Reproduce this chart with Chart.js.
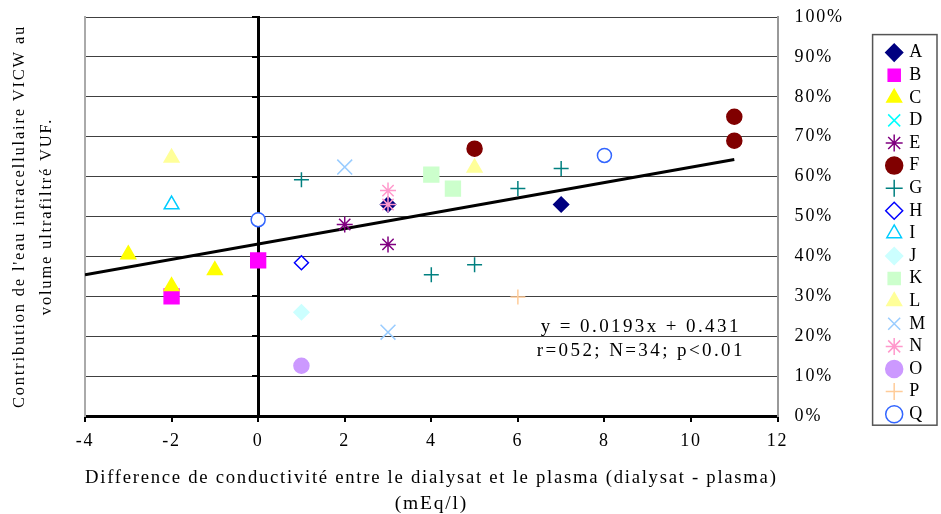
<!DOCTYPE html>
<html>
<head>
<meta charset="utf-8">
<script src="https://cdn.jsdelivr.net/npm/chart.js@4.4.0/dist/chart.umd.min.js"></script>
<style>
  html, body { margin: 0; padding: 0; background: #fff; }
  #wrap { width: 941px; height: 514px; }
</style>
</head>
<body>
<div id="wrap"><canvas id="myChart"></canvas></div>
<script>
// points per series: [x, y%]
const A = [[3, 53], [7, 53]];
const B = [[-2, 30], [0, 39]];
const C = [[-3, 40.5], [-2, 32.5], [-1, 36.5]];
const D = [];
const E = [[2, 48], [3, 43]];
const F = [[5, 67], [11, 75], [11, 69]];
const G = [[1, 59.2], [4, 35.4], [5, 37.9], [6, 57], [7, 62]];
const H = [[1, 38.4]];
const I = [[-2, 53]];
const J = [[1, 26]];
const K = [[4, 60.5], [4.5, 57]];
const L = [[-2, 64.7], [5, 62.2]];
const M = [[2, 62.4], [3, 21]];
const N = [[3, 56.5], [3, 53]];
const O = [[1, 12.6]];
const P = [[6, 29.8]];
const Q = [[0, 49.2], [8, 65.3]];

const seriesNames = ["A", "B", "C", "D", "E", "F", "G", "H", "I", "J", "K", "L", "M", "N", "O", "P", "Q"];
const seriesData = [A, B, C, D, E, F, G, H, I, J, K, L, M, N, O, P, Q];

// regression y = 0.0193x + 0.431
const trendX = [-4, 11];
const trendY = [35.4, 64.3];

const xTicks = [-4, -2, 0, 2, 4, 6, 8, 10, 12];
const yTicks = [0, 10, 20, 30, 40, 50, 60, 70, 80, 90, 100];

const equationLines = ["y = 0.0193x + 0.431", "r=052; N=34; p<0.01"];
const xTitle = ["Difference de conductivité entre le dialysat et le plasma (dialysat - plasma)", "(mEq/l)"];
const yTitle = ["Contribution de l'eau intracellulaire VICW au", "volume ultrafiltré VUF."];

// marker looks
const markerStyle = ["rectRot", "rect", "triangle", "crossRot", "star", "circle", "cross", "rectRot", "triangle", "rectRot", "rect", "triangle", "crossRot", "star", "circle", "cross", "circle"];
const markerFill = ["#000080", "#ff00ff", "#ffff00", "rgba(0,0,0,0)", "rgba(0,0,0,0)", "#800000", "rgba(0,0,0,0)", "#ffffff", "#ffffff", "#ccffff", "#ccffcc", "#ffff99", "rgba(0,0,0,0)", "rgba(0,0,0,0)", "#cc99ff", "rgba(0,0,0,0)", "#ffffff"];
const markerLine = ["#000080", "#ff00ff", "#ffff00", "#00ffff", "#800080", "#800000", "#008080", "#0000ff", "#00ccff", "#ccffff", "#ccffcc", "#ffff99", "#99ccff", "#ff99cc", "#cc99ff", "#ffcc99", "#3366ff"];
const markerRadius = [7.5, 10.5, 8.5, 10.5, 8, 7.5, 7.5, 7, 8.5, 7.5, 10.5, 8.5, 10.5, 8, 7.5, 7.5, 7];

const serif = "'Liberation Serif', 'Times New Roman', serif";
Chart.defaults.font.family = serif;
Chart.defaults.font.size = 18;
Chart.defaults.color = "#000";

// the original uses widely spaced letters
const spacing = {
  id: "spacing",
  beforeUpdate(chart) { chart.ctx.letterSpacing = "1.8px"; },
  beforeDraw(chart) { chart.ctx.letterSpacing = "1.8px"; },
};

const equation = {
  id: "equation",
  afterDatasetsDraw(chart) {
    const { ctx, scales: { x, y } } = chart;
    ctx.save();
    ctx.font = "19px " + serif;
    ctx.letterSpacing = "2.4px";
    ctx.fillStyle = "#000";
    ctx.textAlign = "center";
    ctx.textBaseline = "middle";
    ctx.fillText(equationLines[0], x.getPixelForValue(8.84), y.getPixelForValue(22.3));
    ctx.fillText(equationLines[1], x.getPixelForValue(8.84), y.getPixelForValue(16.3));
    ctx.restore();
  },
};

const legendBox = {
  id: "legendBox",
  afterDraw(chart) {
    const lg = chart.legend;
    const boxes = lg.legendHitBoxes;
    if (!boxes || !boxes.length) return;
    const first = boxes[0];
    const last = boxes[boxes.length - 1];
    const ctx = chart.ctx;
    ctx.save();
    ctx.strokeStyle = "#555";
    ctx.lineWidth = 1.5;
    ctx.strokeRect(lg.left - 11, first.top - 9, lg.right - lg.left + 11, last.top + last.height - first.top + 11);
    ctx.restore();
  },
};

// later series are painted on top, as in the original
const datasets = seriesNames.map((name, i) => ({
  label: name,
  data: seriesData[i].map((p) => ({ x: p[0], y: p[1] })),
  pointStyle: markerStyle[i],
  pointRadius: markerRadius[i],
  pointHoverRadius: markerRadius[i],
  backgroundColor: markerFill[i],
  borderColor: markerLine[i],
  pointBorderWidth: 1.5,
  borderWidth: 1.5,
  showLine: false,
  order: seriesNames.length - i,
}));

datasets.push({
  label: "trend",
  data: trendX.map((v, i) => ({ x: v, y: trendY[i] })),
  showLine: true,
  borderColor: "#000",
  borderWidth: 3,
  pointRadius: 0,
  order: 100,
});

let myChart = new Chart(document.getElementById("myChart"), {
  type: "scatter",
  data: { datasets: datasets },
  plugins: [spacing, equation, legendBox],
  options: {
    responsive: true,
    maintainAspectRatio: false,
    animation: false,
    layout: { padding: { top: 17, right: 4, bottom: 0, left: 0 } },
    plugins: {
      legend: {
        position: "right",
        align: "start",
        title: { display: true, text: "", font: { size: 10 }, padding: { top: 10, bottom: 0 } },
        labels: {
          usePointStyle: true,
          boxWidth: 12,
          boxHeight: 12,
          padding: 4.6,
          color: "#000",
          font: { size: 18 },
          filter: (item) => item.text !== "trend",
          sort: (a, b) => a.datasetIndex - b.datasetIndex,
        },
      },
      tooltip: { enabled: false },
    },
    scales: {
      x: {
        type: "linear",
        position: "bottom",
        min: -4,
        max: 12,
        afterBuildTicks: (s) => { s.ticks = xTicks.map((v) => ({ value: v })); },
        ticks: { padding: 8, color: "#000" },
        grid: { drawOnChartArea: false, drawTicks: true, tickLength: 6, color: "#000", lineWidth: 2 },
        border: { display: true, color: "#000", width: 3 },
        title: { display: true, text: xTitle, font: { size: 19.5, lineHeight: 1.29 }, padding: { top: 2, bottom: -2 }, color: "#000" },
        afterFit: (s) => { s.height = 98; },
      },
      y: {
        type: "linear",
        position: "right",
        min: 0,
        max: 100,
        afterBuildTicks: (s) => { s.ticks = yTicks.map((v) => ({ value: v })); },
        ticks: { padding: 0, color: "#000", callback: (v) => v + "%" },
        grid: { drawTicks: true, tickLength: 17, tickColor: "rgba(0,0,0,0)", color: "#404040", lineWidth: 1 },
        border: { display: true, color: "#999", width: 2 },
        afterFit: (s) => { s.width = 106; },
      },
      yZero: {
        axis: "y",
        type: "linear",
        position: { x: 0 },
        min: 0,
        max: 100,
        afterBuildTicks: (s) => { s.ticks = yTicks.map((v) => ({ value: v })); },
        ticks: { display: false },
        grid: { drawOnChartArea: false, drawTicks: true, tickLength: 5, color: "#000", lineWidth: 2 },
        border: { display: true, color: "#000", width: 3 },
        afterFit: (s) => { s.width = 0; },
      },
      yLeft: {
        axis: "y",
        type: "linear",
        position: "left",
        min: 0,
        max: 100,
        ticks: { display: false },
        grid: { display: false },
        border: { display: true, color: "#aaa", width: 2 },
        title: { display: true, text: yTitle, font: { size: 16.5, lineHeight: 1.65 }, padding: { top: 6, bottom: 0 }, color: "#000" },
        afterFit: (s) => { s.width = 85; },
      },
    },
  },
});
</script>
</body>
</html>
